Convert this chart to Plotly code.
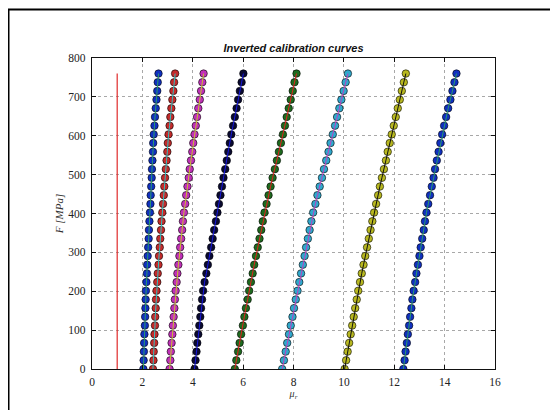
import plotly.graph_objects as go

F = [0.0, 22.4, 44.7, 67.1, 89.4, 111.8, 134.1, 156.5, 178.8, 201.2, 223.5, 245.9,
     268.2, 290.6, 312.9, 335.3, 357.6, 380.0, 402.4, 424.7, 447.1, 469.4, 491.8,
     514.1, 536.5, 558.8, 581.2, 603.5, 625.9, 648.2, 670.6, 692.9, 715.3, 737.6, 760.0]

mu_1 = [2.04, 2.05, 2.06, 2.07, 2.08, 2.10, 2.11, 2.12, 2.13, 2.14, 2.16, 2.18, 2.19, 2.21,
        2.23, 2.25, 2.26, 2.28, 2.30, 2.32, 2.33, 2.35, 2.37, 2.38, 2.40, 2.42, 2.43, 2.45,
        2.48, 2.50, 2.53, 2.56, 2.59, 2.61, 2.64]
mu_2 = [2.42, 2.44, 2.45, 2.47, 2.48, 2.50, 2.51, 2.53, 2.54, 2.56, 2.59, 2.61, 2.64, 2.66,
        2.69, 2.71, 2.74, 2.76, 2.79, 2.82, 2.85, 2.87, 2.90, 2.93, 2.96, 2.99, 3.01, 3.04,
        3.08, 3.11, 3.15, 3.19, 3.23, 3.26, 3.30]
mu_3 = [3.08, 3.11, 3.13, 3.16, 3.19, 3.21, 3.24, 3.27, 3.29, 3.32, 3.36, 3.39, 3.43, 3.47,
        3.50, 3.54, 3.58, 3.61, 3.65, 3.70, 3.74, 3.79, 3.84, 3.88, 3.93, 3.98, 4.02, 4.07,
        4.12, 4.17, 4.22, 4.28, 4.33, 4.38, 4.43]
mu_4 = [4.07, 4.11, 4.15, 4.18, 4.22, 4.26, 4.30, 4.33, 4.37, 4.41, 4.47, 4.54, 4.60, 4.66,
        4.73, 4.79, 4.85, 4.92, 4.98, 5.04, 5.10, 5.16, 5.22, 5.29, 5.35, 5.41, 5.47, 5.53,
        5.60, 5.67, 5.74, 5.80, 5.87, 5.94, 6.01]
mu_5 = [5.67, 5.73, 5.80, 5.86, 5.92, 5.99, 6.05, 6.11, 6.18, 6.24, 6.31, 6.38, 6.44, 6.51,
        6.58, 6.65, 6.72, 6.78, 6.85, 6.93, 7.01, 7.09, 7.17, 7.26, 7.34, 7.42, 7.50, 7.58,
        7.66, 7.73, 7.81, 7.89, 7.97, 8.04, 8.12]
mu_6 = [7.55, 7.62, 7.69, 7.75, 7.82, 7.89, 7.96, 8.02, 8.09, 8.16, 8.23, 8.30, 8.37, 8.44,
        8.50, 8.57, 8.64, 8.71, 8.78, 8.87, 8.95, 9.04, 9.13, 9.21, 9.30, 9.39, 9.47, 9.56,
        9.65, 9.73, 9.82, 9.90, 9.99, 10.07, 10.16]
mu_7 = [10.03, 10.09, 10.15, 10.21, 10.27, 10.33, 10.39, 10.45, 10.51, 10.57, 10.64, 10.71,
        10.78, 10.85, 10.92, 10.99, 11.06, 11.13, 11.20, 11.28, 11.36, 11.43, 11.51, 11.59,
        11.67, 11.74, 11.82, 11.90, 11.98, 12.06, 12.14, 12.22, 12.30, 12.38, 12.46]
mu_8 = [12.36, 12.41, 12.45, 12.50, 12.54, 12.59, 12.63, 12.68, 12.72, 12.77, 12.83, 12.88,
        12.94, 13.00, 13.05, 13.11, 13.17, 13.22, 13.28, 13.35, 13.42, 13.49, 13.56, 13.62,
        13.69, 13.76, 13.83, 13.90, 13.98, 14.06, 14.14, 14.23, 14.31, 14.39, 14.47]

series = [mu_1, mu_2, mu_3, mu_4, mu_5, mu_6, mu_7, mu_8]
marker_colors = ["#1030c0", "#c42a2a", "#c030b8", "#0a0a30", "#1e6a1e", "#30a8cc", "#b8b820", "#1030c0"]
line_colors = ["#2a9a6a", "#30c0c0", "#c8c030", "#1818e0", "#e02020", "#c040c0", "#101010", "#2a9a6a"]

ref_x = [1, 1]
ref_F = [0, 760]

fig = go.Figure()
fig.add_trace(go.Scatter(x=ref_x, y=ref_F, mode="lines",
                         line=dict(color="#e02a2a", width=1.2), showlegend=False))
for mu, mc, lc in zip(series, marker_colors, line_colors):
    fig.add_trace(go.Scatter(x=mu, y=F, mode="markers", showlegend=False,
                             marker=dict(size=7.5, color=mc, line=dict(color="#000000", width=0.6))))
    fig.add_trace(go.Scatter(x=mu, y=F, mode="lines", showlegend=False,
                             line=dict(color=lc, width=1)))

SERIF = "Liberation Serif, Times New Roman, serif"
axis_common = dict(showline=True, linecolor="#111", linewidth=1.2, mirror="ticks",
                   ticks="inside", ticklen=4, tickcolor="#111", showgrid=True,
                   gridcolor="#a8a8a8", griddash="dot", gridwidth=1, zeroline=False,
                   tickfont=dict(family=SERIF, size=11.5, color="#222"))

# page body has an 8px offset: margins are set so the plot area lands at
# x 92..495, y 58..369 on the screen
fig.update_layout(
    width=558, height=410, autosize=False,
    margin=dict(l=84, r=71, t=50, b=49, pad=0),
    paper_bgcolor="white", plot_bgcolor="white",
    title=dict(text="<i>Inverted calibration curves</i>", x=0.5, xref="paper",
               y=1 - 40 / 410, yref="container", yanchor="middle", xanchor="center",
               font=dict(family="Liberation Sans, Arial, sans-serif", size=11,
                         color="#111", weight="bold")),
    xaxis=dict(range=[0, 16], dtick=2, ticklabelstandoff=2,
               title=dict(text="<i>μ<sub>r</sub></i>", standoff=0,
                          font=dict(family=SERIF, size=10, color="#333")),
               **axis_common),
    yaxis=dict(range=[0, 800], dtick=100, ticklabelstandoff=3,
               title=dict(text="<i>F [MPa]</i>", standoff=2,
                          font=dict(family=SERIF, size=11, color="#333")),
               **axis_common),
    shapes=[dict(type="rect", xref="paper", yref="paper",
                 x0=(0.5 - 84) / 403, x1=1.5, y0=-0.5, y1=(361 - 1.5) / 311,
                 line=dict(color="black", width=2), layer="below")],
)

fig.write_html("out.html")
